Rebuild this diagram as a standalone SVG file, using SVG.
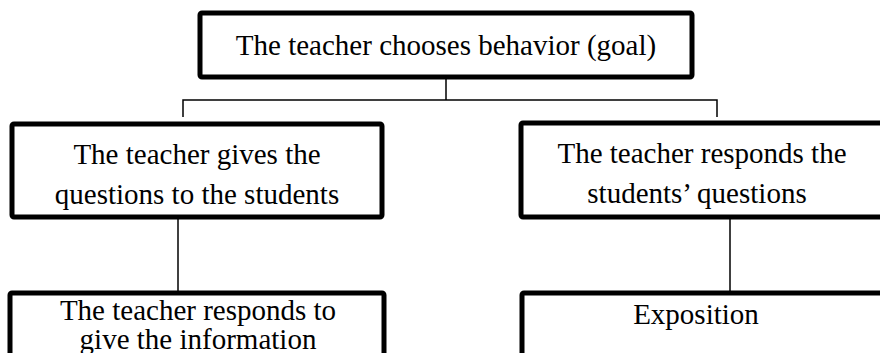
<svg xmlns="http://www.w3.org/2000/svg" width="880" height="353" viewBox="0 0 880 353">
  <style>
    .box { fill: #ffffff; stroke: #000000; stroke-width: 5; }
    .link { fill: none; stroke: #000000; stroke-width: 1.5; }
    .label { font-family: "Liberation Serif", "Times New Roman", serif; font-size: 29px; fill: #000000; text-anchor: middle; }
  </style>
  <rect width="880" height="353" fill="#ffffff"/>

  <g id="connectors">
    <path class="link" d="M446 77 V100 M183 117 V100 H717 V117"/>
    <path class="link" d="M178 217 V293"/>
    <path class="link" d="M730 217 V293"/>
  </g>

  <g id="goal">
    <rect class="box" x="200" y="13" width="492" height="64" rx="2"/>
    <text class="label" x="446" y="55">The teacher chooses behavior (goal)</text>
  </g>

  <g id="gives-questions">
    <rect class="box" x="12" y="124" width="370" height="93" rx="2"/>
    <text class="label" x="197" y="164">The teacher gives the</text>
    <text class="label" x="197" y="204">questions to the students</text>
  </g>

  <g id="responds-questions">
    <rect class="box" x="521" y="123" width="400" height="94" rx="2"/>
    <text class="label" x="702" y="163">The teacher responds the</text>
    <text class="label" x="697" y="203">students’ questions</text>
  </g>

  <g id="gives-information">
    <rect class="box" x="10" y="293" width="374" height="90" rx="2"/>
    <text class="label" x="198" y="320">The teacher responds to</text>
    <text class="label" x="198" y="349">give the information</text>
  </g>

  <g id="exposition">
    <rect class="box" x="522" y="293" width="400" height="90" rx="2"/>
    <text class="label" x="696" y="324">Exposition</text>
  </g>
</svg>
